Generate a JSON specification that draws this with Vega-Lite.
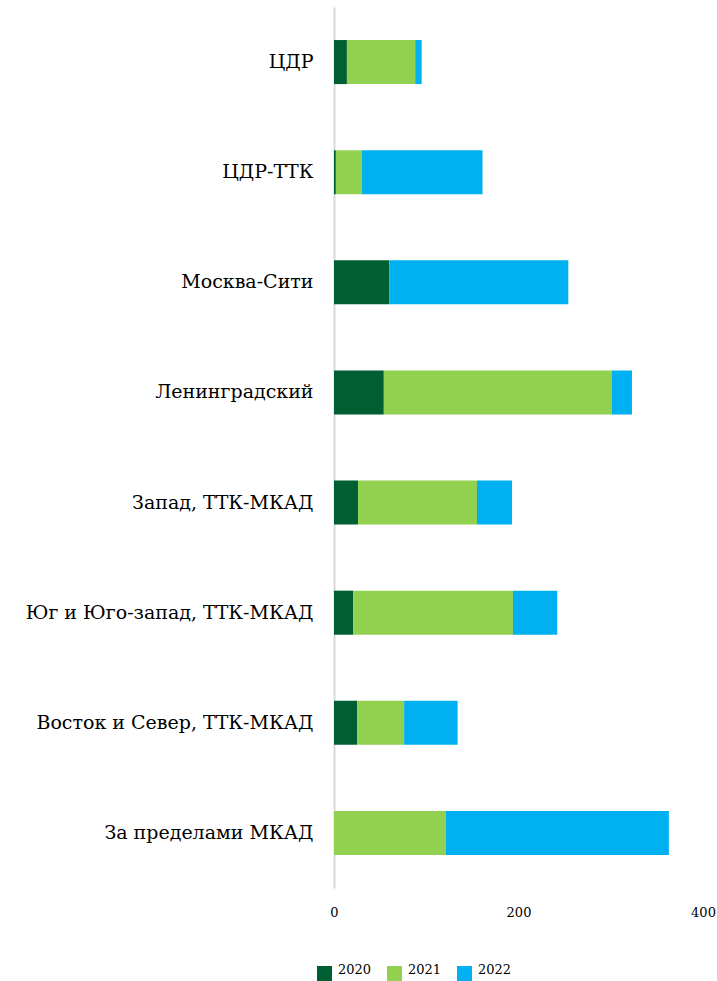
{
  "$schema": "https://vega.github.io/schema/vega-lite/v6.json",
  "width": 369,
  "height": 881,
  "autosize": {"type": "none"},
  "padding": {"left": 334, "top": 7, "right": 14, "bottom": 93},
  "background": "white",
  "data": {"values": [
    {"cat": "ЦДР", "year": "2020", "v": 14},
    {"cat": "ЦДР", "year": "2021", "v": 74},
    {"cat": "ЦДР", "year": "2022", "v": 7},
    {"cat": "ЦДР-ТТК", "year": "2020", "v": 2},
    {"cat": "ЦДР-ТТК", "year": "2021", "v": 28},
    {"cat": "ЦДР-ТТК", "year": "2022", "v": 131},
    {"cat": "Москва-Сити", "year": "2020", "v": 60},
    {"cat": "Москва-Сити", "year": "2021", "v": 0},
    {"cat": "Москва-Сити", "year": "2022", "v": 194},
    {"cat": "Ленинградский", "year": "2020", "v": 54},
    {"cat": "Ленинградский", "year": "2021", "v": 247},
    {"cat": "Ленинградский", "year": "2022", "v": 22},
    {"cat": "Запад, ТТК-МКАД", "year": "2020", "v": 26},
    {"cat": "Запад, ТТК-МКАД", "year": "2021", "v": 129},
    {"cat": "Запад, ТТК-МКАД", "year": "2022", "v": 38},
    {"cat": "Юг и Юго-запад, ТТК-МКАД", "year": "2020", "v": 21},
    {"cat": "Юг и Юго-запад, ТТК-МКАД", "year": "2021", "v": 173},
    {"cat": "Юг и Юго-запад, ТТК-МКАД", "year": "2022", "v": 48},
    {"cat": "Восток и Север, ТТК-МКАД", "year": "2020", "v": 25},
    {"cat": "Восток и Север, ТТК-МКАД", "year": "2021", "v": 51},
    {"cat": "Восток и Север, ТТК-МКАД", "year": "2022", "v": 58},
    {"cat": "За пределами МКАД", "year": "2020", "v": 0},
    {"cat": "За пределами МКАД", "year": "2021", "v": 121},
    {"cat": "За пределами МКАД", "year": "2022", "v": 242}
  ]},
  "mark": {"type": "bar"},
  "encoding": {
    "y": {
      "field": "cat", "type": "nominal", "sort": null,
      "scale": {"paddingInner": 0.6, "paddingOuter": 0.3},
      "axis": {
        "title": null, "ticks": false, "domainColor": "#d9d9d9", "domainWidth": 2,
        "labelFont": "DejaVu Serif", "labelFontSize": 19, "labelColor": "#000000",
        "labelPadding": 21, "labelLimit": 400
      }
    },
    "x": {
      "field": "v", "type": "quantitative", "stack": "zero",
      "scale": {"domain": [0, 400], "nice": false},
      "axis": {
        "title": null, "values": [0, 200, 400], "domain": false, "ticks": false, "grid": false,
        "labelFont": "DejaVu Serif", "labelFontSize": 13, "labelColor": "#000000",
        "labelPadding": 18, "labelFlush": false
      }
    },
    "color": {
      "field": "year", "type": "nominal",
      "scale": {"domain": ["2020", "2021", "2022"], "range": ["#005F32", "#92D050", "#00B0F0"]},
      "legend": {
        "title": null, "orient": "none", "direction": "horizontal",
        "legendX": -17, "legendY": 959,
        "symbolType": "square", "symbolSize": 225, "symbolStrokeWidth": 0,
        "labelFont": "DejaVu Serif", "labelFontSize": 13, "labelColor": "#000000",
        "labelBaseline": "alphabetic", "labelOffset": 6, "columnPadding": 15
      }
    },
    "order": {"field": "year", "sort": "ascending"}
  },
  "config": {"view": {"stroke": null}}
}
